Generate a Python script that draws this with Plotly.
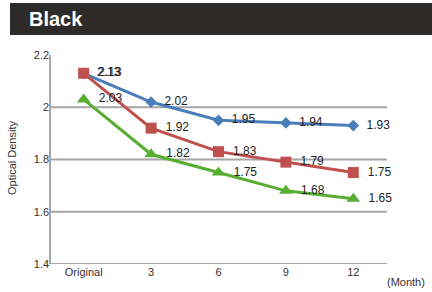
import plotly.graph_objects as go

categories = ["Original", "3", "6", "9", "12"]
blue_vals = [2.13, 2.02, 1.95, 1.94, 1.93]
red_vals = [2.13, 1.92, 1.83, 1.79, 1.75]
green_vals = [2.03, 1.82, 1.75, 1.68, 1.65]
y_ticks = [1.4, 1.6, 1.8, 2.0, 2.2]
y_tick_labels = ["1.4", "1.6", "1.8", "2", "2.2"]

FONT = "Liberation Sans Narrow, Liberation Sans, Arial, sans-serif"

L, R, T, B = 50, 45, 55, 28
W, H = 432, 292
pw, ph = W - L - R, H - T - B

def px(x):
    return (x - L) / pw

def py(y):
    return (H - B - y) / ph

NB = "\u00a0"

def labels(vals):
    return [NB * 2 + f"{v:.2f}" for v in vals]

fig = go.Figure()
series = [
    (blue_vals, "#4a7ebb", "diamond", 9),
    (red_vals, "#c0504d", "square", 11),
    (green_vals, "#58ae30", "triangle-up", 12),
]
for vals, col, sym, sz in series:
    fig.add_trace(go.Scatter(
        x=categories, y=vals, mode="lines+markers+text",
        line=dict(color=col, width=3),
        marker=dict(symbol=sym, size=sz, color=col),
        text=labels(vals), textposition="middle right",
        textfont=dict(family=FONT, size=12, color="#222222"),
        cliponaxis=False, showlegend=False, hoverinfo="skip",
    ))

fig.update_layout(
    width=W, height=H,
    margin=dict(l=L, r=R, t=T, b=B),
    paper_bgcolor="white", plot_bgcolor="white",
    font=dict(family=FONT, size=12, color="#333333"),
    xaxis=dict(type="category", range=[-0.5, 4.5], showgrid=False,
               showline=False, zeroline=False, ticks="",
               tickfont=dict(family=FONT, size=11, color="#333333")),
    yaxis=dict(range=[1.4, 2.2], tickvals=y_ticks, ticktext=y_tick_labels,
               showgrid=False, zeroline=False, showline=False, ticks="",
               tickfont=dict(family=FONT, size=11, color="#333333")),
    shapes=[
        dict(type="rect", xref="paper", yref="paper", x0=px(10), x1=px(432),
             y0=py(35), y1=py(3), fillcolor="#2d2b29", line=dict(width=0), layer="below"),
    ] + [
        dict(type="line", xref="paper", yref="y", x0=0, x1=1, y0=v, y1=v,
             line=dict(color="#a6a6a6", width=2), layer="below")
        for v in [1.4, 1.6, 1.8, 2.0]
    ] + [
        dict(type="line", xref="paper", yref="paper", x0=0, x1=0, y0=0, y1=1,
             line=dict(color="#a6a6a6", width=2), layer="below"),
    ],
    annotations=[
        dict(text="<b>Black</b>", xref="paper", yref="paper", x=px(27), y=py(19),
             xanchor="left", yanchor="middle", showarrow=False,
             font=dict(family=FONT, size=20, color="white")),
        dict(text="Optical Density", xref="paper", yref="paper", x=px(12), y=py(158),
             xanchor="center", yanchor="middle", textangle=-90, showarrow=False,
             font=dict(family=FONT, size=11, color="#333333")),
        dict(text="(Month)", xref="paper", yref="paper", x=px(406), y=py(282),
             xanchor="center", yanchor="middle", showarrow=False,
             font=dict(family=FONT, size=11, color="#333333")),
    ],
)

fig.write_html("out.html", config={"displayModeBar": False},
               post_script="document.body.style.margin='0';")
